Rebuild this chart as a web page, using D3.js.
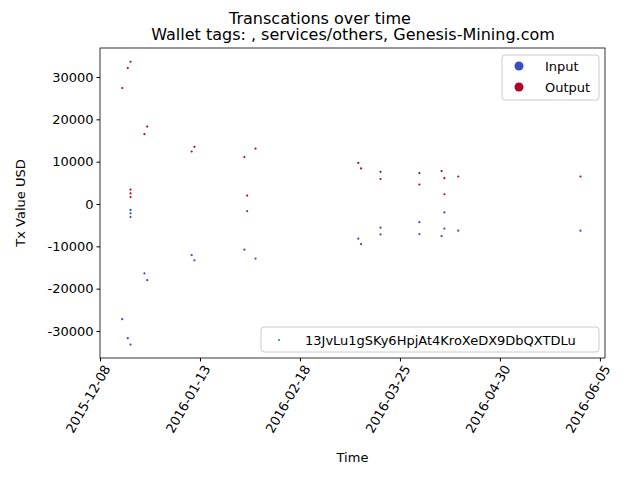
<html>
<head>
<meta charset="utf-8">
<script src="https://d3js.org/d3.v7.min.js"></script>
<style>body{margin:0;background:#fff}text{font-family:"DejaVu Sans",sans-serif}</style>
</head>
<body>
<script>
// transactions: date, value (USD), direction
var txDates = ["2015-12-16","2015-12-18","2015-12-19","2015-12-19","2015-12-19","2015-12-19",
  "2015-12-24","2015-12-25","2016-01-10","2016-01-11","2016-01-29","2016-01-30","2016-02-02",
  "2016-03-10","2016-03-11","2016-03-18","2016-03-18","2016-04-01","2016-04-01",
  "2016-04-09","2016-04-10","2016-04-10","2016-04-15","2016-05-29"];
var outValues = [27400,32100,33600,3400,2500,1650,16500,18300,12400,13500,11100,2000,13100,
  9700,8400,7600,5900,7300,4600,7800,6100,2300,6500,6500];
var inValues = [-27200,-31700,-33200,-1400,-2200,-3100,-16400,-18000,-12100,-13300,-10800,-1700,-12900,
  -8200,-9500,-5600,-7200,-4300,-7100,-7600,-2000,-5800,-6300,-6300];
var xTicks = ["2015-12-08","2016-01-13","2016-02-18","2016-03-25","2016-04-30","2016-06-05"];
var yTicks = [-30000,-20000,-10000,0,10000,20000,30000];

var parse = d3.timeParse("%Y-%m-%d");
var W = 640, H = 480, L = 100, R = 605, T = 48, B = 358;
var svg = d3.select("body").append("svg").attr("width", W).attr("height", H);

var x = d3.scaleTime().domain([parse("2015-12-08"), d3.timeHour.offset(parse("2016-06-05"), 44)]).range([L, R]);
var y = d3.scaleLinear().domain([-36380, 36850]).range([B, T]);

svg.append("text").attr("x", 320).attr("y", 24).attr("text-anchor", "middle").style("font-size", "16px").text("Transcations over time");
svg.append("text").attr("x", 353).attr("y", 40).attr("text-anchor", "middle").style("font-size", "16px").text("Wallet tags: , services/others, Genesis-Mining.com");

var xa = svg.append("g").attr("transform", "translate(0," + B + ")")
  .call(d3.axisBottom(x).tickValues(xTicks.map(parse)).tickFormat(d3.timeFormat("%Y-%m-%d")).tickSizeOuter(0).tickSize(3.5));
xa.selectAll("text").attr("transform", "rotate(-60)").attr("text-anchor", "end")
  .attr("dx", "-0.3em").attr("dy", "0.6em").style("font-size", "13px");
var ya = svg.append("g").attr("transform", "translate(" + L + ",0)")
  .call(d3.axisLeft(y).tickValues(yTicks).tickFormat(function (d) { return String(d); }).tickSizeOuter(0).tickSize(3.5));
ya.selectAll("text").style("font-size", "13px");
[xa, ya].forEach(function (a) { a.select(".domain").remove(); });
svg.append("rect").attr("x", L).attr("y", T).attr("width", R - L).attr("height", B - T)
  .attr("fill", "none").attr("stroke", "#000").attr("stroke-width", 0.8);

svg.append("text").attr("x", (L + R) / 2).attr("y", 462).attr("text-anchor", "middle").style("font-size", "13px").text("Time");
svg.append("text").attr("transform", "translate(25," + (T + B) / 2 + ") rotate(-90)").attr("text-anchor", "middle").style("font-size", "13px").text("Tx Value USD");

var blue = "#3b4cc0", red = "#b40426";
svg.append("g").selectAll("circle").data(txDates).join("circle")
  .attr("cx", function (d) { return x(parse(d)); }).attr("cy", function (d, i) { return y(outValues[i]); })
  .attr("r", 1.1).attr("fill", red);
svg.append("g").selectAll("circle").data(txDates).join("circle")
  .attr("cx", function (d) { return x(parse(d)); }).attr("cy", function (d, i) { return y(inValues[i]); })
  .attr("r", 1.1).attr("fill", blue);

// legend top right
var lg = svg.append("g");
lg.append("rect").attr("x", 502).attr("y", 55).attr("width", 97).attr("height", 45).attr("rx", 3)
  .attr("fill", "#fff").attr("stroke", "#ccc");
[["Input", blue], ["Output", red]].forEach(function (d, i) {
  lg.append("circle").attr("cx", 519).attr("cy", 66 + i * 21).attr("r", 4.5).attr("fill", d[1]);
  lg.append("text").attr("x", 545).attr("y", 71 + i * 21).style("font-size", "13px").text(d[0]);
});
// legend bottom right
var lb = svg.append("g");
lb.append("rect").attr("x", 261).attr("y", 327).attr("width", 338).attr("height", 25).attr("rx", 3)
  .attr("fill", "#fff").attr("stroke", "#ccc");
lb.append("circle").attr("cx", 279).attr("cy", 340).attr("r", 1).attr("fill", "#1f77b4");
lb.append("text").attr("x", 305).attr("y", 345).style("font-size", "13px").text("13JvLu1gSKy6HpjAt4KroXeDX9DbQXTDLu");
</script>
</body>
</html>
